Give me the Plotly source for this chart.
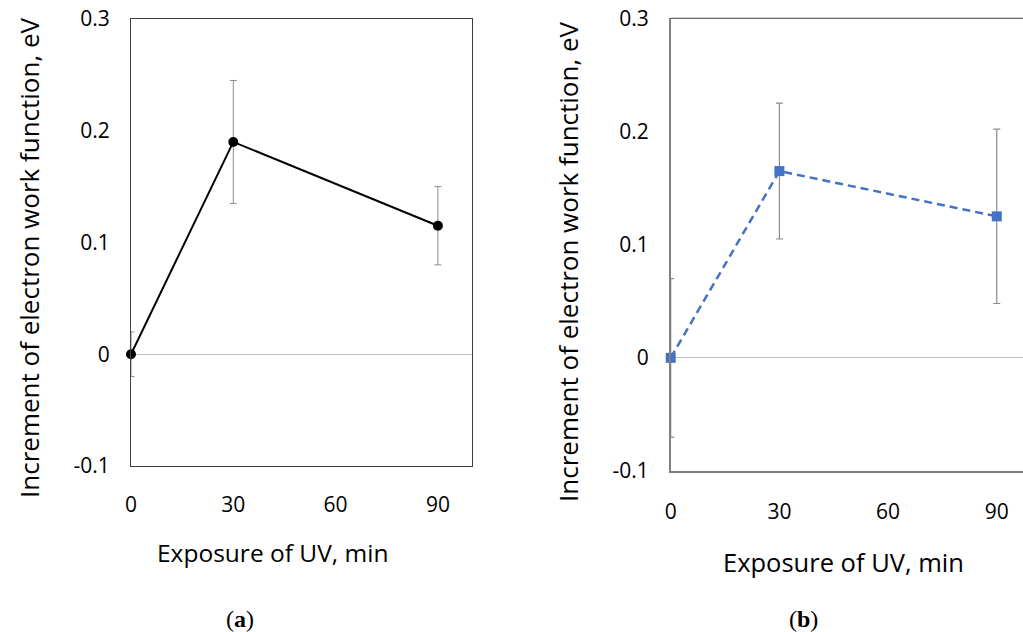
import plotly.graph_objects as go

# Data
exposure = [0, 30, 90]
work_a = [0.0, 0.19, 0.115]
err_a = [0.02, 0.055, 0.035]
work_b = [0.0, 0.165, 0.125]
err_b = [0.07, 0.06, 0.077]

x_ticks = [0, 30, 60, 90]
x_ticktext = ["0", "30", "60", "90"]
y_ticks = [-0.1, 0, 0.1, 0.2, 0.3]
y_ticktext = ["-0.1", "0", "0.1", "0.2", "0.3"]

y_title = "Increment of electron work function, eV"
x_title = "Exposure of UV, min"

W, H = 1023, 632
FONT = "Open Sans"
TICK = 21
TITLE = 26

fig = go.Figure()

fig.add_trace(go.Scatter(
    x=exposure, y=work_a, mode="lines+markers",
    line=dict(color="black", width=2),
    marker=dict(symbol="circle", size=10, color="black"),
    error_y=dict(type="data", array=err_a, color="#8c8c8c", thickness=1, width=3.5),
    cliponaxis=False, xaxis="x", yaxis="y", showlegend=False,
))
fig.add_trace(go.Scatter(
    x=exposure, y=work_b, mode="lines+markers",
    line=dict(color="#4472C4", width=2.5, dash="8px,5px"),
    marker=dict(symbol="square", size=10, color="#4472C4"),
    error_y=dict(type="data", array=err_b, color="#8c8c8c", thickness=1.2, width=3.5),
    cliponaxis=False, xaxis="x2", yaxis="y2", showlegend=False,
))

def px_x(v):
    return v / W

def px_y(v):
    return 1 - v / H

common_x = dict(tickmode="array", tickvals=x_ticks, ticktext=x_ticktext,
                showgrid=False, zeroline=False, ticks="", automargin=False,
                tickfont=dict(family=FONT, size=TICK, color="black"))
common_y = dict(tickmode="array", tickvals=y_ticks, ticktext=y_ticktext,
                showgrid=False, ticks="", automargin=False,
                zeroline=True, zerolinecolor="#c0c0c0", zerolinewidth=1,
                tickfont=dict(family=FONT, size=TICK, color="black"))

fig.update_layout(
    width=W, height=H,
    margin=dict(l=0, r=0, t=0, b=0, autoexpand=False),
    paper_bgcolor="white", plot_bgcolor="white",
    xaxis=dict(domain=[px_x(131), px_x(472)], range=[0, 100], anchor="y",
               showline=True, linecolor="#404040", linewidth=1, mirror=True,
               ticklabelstandoff=20, **common_x),
    yaxis=dict(domain=[px_y(466), px_y(19)], range=[-0.1, 0.3], anchor="x",
               showline=True, linecolor="#404040", linewidth=1, mirror=True,
               ticklabelstandoff=16, **common_y),
    xaxis2=dict(domain=[px_x(670.7), 1.0], range=[0, (1023 - 670.7) / 3.623], anchor="y2",
                showline=True, linecolor="#7f7f7f", linewidth=2, mirror=False,
                ticklabelstandoff=21, **common_x),
    yaxis2=dict(domain=[px_y(471), px_y(18.3)], range=[-0.1, 0.3], anchor="x2",
                showline=True, linecolor="#7f7f7f", linewidth=1.5, mirror=False,
                ticklabelstandoff=16, **common_y),
    shapes=[dict(type="line", xref="x2 domain", yref="y2 domain",
                 x0=0, x1=1, y0=1, y1=1, line=dict(color="#404040", width=1))],
)

ann = []
ann.append(dict(text=y_title, x=px_x(29), y=px_y(258), xref="paper", yref="paper",
                textangle=-90, showarrow=False, xanchor="center", yanchor="middle",
                font=dict(family=FONT, size=TITLE, color="black")))
ann.append(dict(text=y_title, x=px_x(568), y=px_y(262), xref="paper", yref="paper",
                textangle=-90, showarrow=False, xanchor="center", yanchor="middle",
                font=dict(family=FONT, size=TITLE, color="black")))
ann.append(dict(text=x_title, x=px_x(272), y=px_y(552), xref="paper", yref="paper",
                showarrow=False, xanchor="center", yanchor="middle",
                font=dict(family=FONT, size=24.5, color="black")))
ann.append(dict(text=x_title, x=px_x(843), y=px_y(562), xref="paper", yref="paper",
                showarrow=False, xanchor="center", yanchor="middle",
                font=dict(family=FONT, size=25.5, color="black")))
ann.append(dict(text="(<b>a</b>)", x=px_x(240), y=px_y(619), xref="paper", yref="paper",
                showarrow=False, xanchor="center", yanchor="middle",
                font=dict(family="Liberation Serif", size=24, color="black")))
ann.append(dict(text="(<b>b</b>)", x=px_x(803), y=px_y(619), xref="paper", yref="paper",
                showarrow=False, xanchor="center", yanchor="middle",
                font=dict(family="Liberation Serif", size=24, color="black")))
fig.update_layout(annotations=ann)

fig.write_html(
    "out.html",
    config={"displayModeBar": False},
    post_script="document.body.style.margin='0px';document.body.style.overflow='hidden';",
)
